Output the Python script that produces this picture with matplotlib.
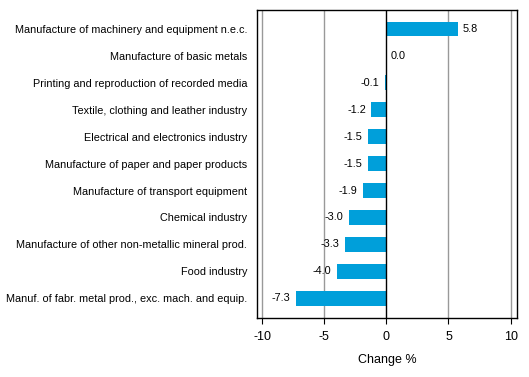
import numpy as np
import matplotlib.pyplot as plt

plt.rcParams['font.family'] = ['Liberation Sans', 'DejaVu Sans']

# Toimialat ja muutos %
categories = [
    'Manufacture of machinery and equipment n.e.c.',
    'Manufacture of basic metals',
    'Printing and reproduction of recorded media',
    'Textile, clothing and leather industry',
    'Electrical and electronics industry',
    'Manufacture of paper and paper products',
    'Manufacture of transport equipment',
    'Chemical industry',
    'Manufacture of other non-metallic mineral prod.',
    'Food industry',
    'Manuf. of fabr. metal prod., exc. mach. and equip.',
]
values = [5.8, 0.03, -0.1, -1.2, -1.5, -1.5, -1.9, -3.0, -3.3, -4.0, -7.3]
labels = ['5.8', '0.0', '-0.1', '-1.2', '-1.5', '-1.5', '-1.9', '-3.0', '-3.3', '-4.0', '-7.3']
xticks = [-10, -5, 0, 5, 10]

fig = plt.figure(figsize=(5.29, 3.77), dpi=100)
ax = fig.add_axes([0.486, 0.156, 0.491, 0.817])

y = np.arange(len(categories))
for xv in [-10, -5, 5, 10]:
    ax.axvline(xv, color='#999999', lw=1, zorder=0)
ax.barh(y, values, height=0.55, color='#009FDA', zorder=2)
ax.axvline(0, color='black', lw=1, zorder=3)

for yi, v, lab in zip(y, values, labels):
    if v >= 0:
        ax.annotate(lab, (v, yi), xytext=(3, 0), textcoords='offset points',
                    va='center', ha='left', fontsize=7.8)
    else:
        ax.annotate(lab, (v, yi), xytext=(-4, 0), textcoords='offset points',
                    va='center', ha='right', fontsize=7.8)

ax.set_yticks(y)
ax.set_yticklabels(categories, fontsize=7.8)
ax.tick_params(axis='y', length=0, pad=7)
ax.set_xticks(xticks)
ax.set_xticklabels([str(t) for t in xticks], fontsize=9)
ax.tick_params(axis='x', length=4, direction='out', pad=5)
ax.set_xlim(-10.4, 10.5)
ax.set_ylim(len(categories) - 1 + 0.74, -0.7)
ax.set_xlabel('Change %', fontsize=9, labelpad=8)
for s in ax.spines.values():
    s.set_linewidth(1)

fig.savefig('out.png', dpi=100)
